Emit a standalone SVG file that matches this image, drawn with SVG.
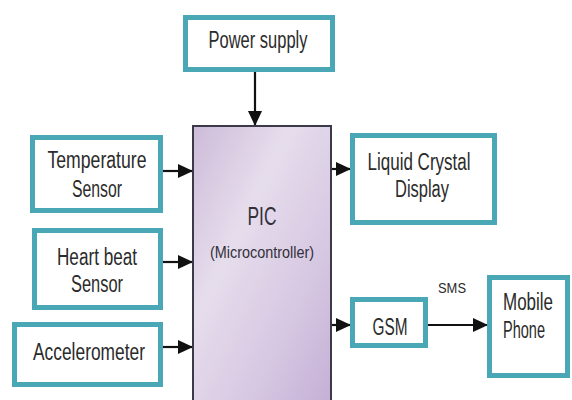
<svg xmlns="http://www.w3.org/2000/svg" width="572" height="400" viewBox="0 0 572 400">
<defs>
<style>
.box{fill:#ffffff;stroke:#4aa7b5;stroke-width:5}
.t{font-family:"Liberation Sans",Arial,sans-serif;fill:#2b2b2b;text-anchor:middle;font-size:23px}
.c{stroke:#111;stroke-width:2.2;fill:none}
</style>
<linearGradient id="pg" x1="0" y1="0" x2="1" y2="1">
<stop offset="0" stop-color="#cdbbd9"/>
<stop offset="0.35" stop-color="#e6ddec"/>
<stop offset="0.7" stop-color="#d6c7e2"/>
<stop offset="1" stop-color="#c4afd5"/>
</linearGradient>
<marker id="ah" markerUnits="userSpaceOnUse" markerWidth="16" markerHeight="16" viewBox="0 0 16 16" refX="15" refY="8" orient="auto">
<path d="M0,1 L15,8 L0,15 Z" fill="#111"/>
</marker>
</defs>
<rect width="572" height="400" fill="#ffffff"/>
<g id="connectors">
<line class="c" x1="255" y1="72" x2="255" y2="126" marker-end="url(#ah)"/>
<line class="c" x1="163" y1="171" x2="193" y2="171" marker-end="url(#ah)"/>
<line class="c" x1="163" y1="262" x2="193" y2="262" marker-end="url(#ah)"/>
<line class="c" x1="163" y1="347" x2="193" y2="347" marker-end="url(#ah)"/>
<line class="c" x1="331" y1="169" x2="351" y2="169" marker-end="url(#ah)"/>
<line class="c" x1="331" y1="325" x2="351" y2="325" marker-end="url(#ah)"/>
<line class="c" x1="428" y1="325" x2="488" y2="325" marker-end="url(#ah)"/>
<text class="t" x="452" y="293" style="font-size:15px" textLength="28" lengthAdjust="spacingAndGlyphs">SMS</text>
</g>
<g id="pic">
<rect x="193" y="126" width="138" height="280" fill="url(#pg)" stroke="#3a3a48" stroke-width="2"/>
<text class="t" x="262" y="225" style="font-size:25px;fill:#33303a" textLength="29" lengthAdjust="spacingAndGlyphs">PIC</text>
<text class="t" x="262" y="258" style="font-size:16px;fill:#33303a" textLength="104" lengthAdjust="spacingAndGlyphs">(Microcontroller)</text>
</g>
<g id="power">
<rect class="box" x="185.5" y="17.5" width="147" height="52"/>
<text class="t" x="258" y="48" textLength="99" lengthAdjust="spacingAndGlyphs">Power supply</text>
</g>
<g id="temp">
<rect class="box" x="32.5" y="137.5" width="128" height="73"/>
<text class="t" x="97" y="168" textLength="99" lengthAdjust="spacingAndGlyphs">Temperature</text>
<text class="t" x="97" y="197" textLength="50" lengthAdjust="spacingAndGlyphs">Sensor</text>
</g>
<g id="heart">
<rect class="box" x="34.5" y="230.5" width="126" height="77"/>
<text class="t" x="97" y="265" textLength="80" lengthAdjust="spacingAndGlyphs">Heart beat</text>
<text class="t" x="97" y="292" textLength="52" lengthAdjust="spacingAndGlyphs">Sensor</text>
</g>
<g id="accel">
<rect class="box" x="14.5" y="324.5" width="146" height="60"/>
<text class="t" x="89" y="360" textLength="112" lengthAdjust="spacingAndGlyphs">Accelerometer</text>
</g>
<g id="lcd">
<rect class="box" x="352.5" y="135.5" width="142" height="87"/>
<text class="t" x="419" y="170" textLength="103" lengthAdjust="spacingAndGlyphs">Liquid Crystal</text>
<text class="t" x="422" y="197" textLength="54" lengthAdjust="spacingAndGlyphs">Display</text>
</g>
<g id="gsm">
<rect class="box" x="352.5" y="299.5" width="73" height="46"/>
<text class="t" x="390" y="335" textLength="35" lengthAdjust="spacingAndGlyphs">GSM</text>
</g>
<g id="mobile">
<rect class="box" x="489.5" y="277.5" width="78" height="98"/>
<text class="t" x="528" y="310" textLength="50" lengthAdjust="spacingAndGlyphs">Mobile</text>
<text class="t" x="524" y="338" textLength="42" lengthAdjust="spacingAndGlyphs">Phone</text>
</g>
</svg>
